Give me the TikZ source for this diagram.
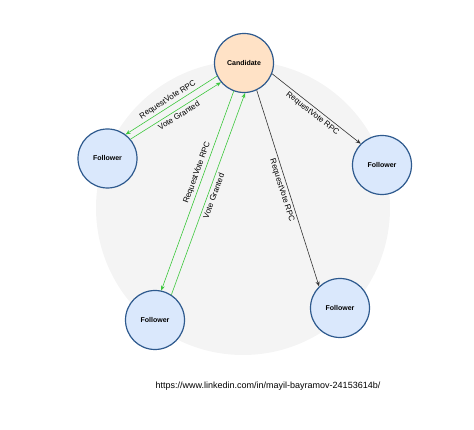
\documentclass[tikz,border=0pt]{standalone}
\usepackage{fontspec}
\setmainfont{Liberation Sans}
\usepackage{xcolor}
\usepackage{tikz}
\usetikzlibrary{positioning,arrows.meta}

\definecolor{nodeedge}{HTML}{2E5A8E}
\definecolor{candfill}{HTML}{FFE2C6}
\definecolor{follfill}{HTML}{DAE8FC}
\definecolor{votegreen}{HTML}{3DC83D}
\definecolor{ringgray}{HTML}{F4F4F4}

\begin{document}
\begin{tikzpicture}[x=1pt, y=1pt, align=center,
    server/.style={circle, draw=nodeedge, line width=1.2pt, minimum size=59pt, inner sep=0pt, font=\bfseries\fontsize{7}{8}\selectfont},
    rpc/.style={-{Stealth[length=5pt, width=4pt]}, line width=0.6pt, draw=black!80},
    vote/.style={rpc, draw=votegreen},
    msg/.style={font=\fontsize{8}{9}\selectfont, sloped, inner sep=2.5pt}]
    \useasboundingbox (0,0) rectangle (474,430);
    \node [circle, fill=ringgray, minimum size=294pt] (ring) at (243,222) {};

    \node [server, fill=candfill] (candidate) at (244,367) {Candidate};
    \node [server, fill=follfill, on grid, below left=95.5pt and 136.5pt of candidate] (follower1) {Follower};
    \node [server, fill=follfill, on grid, below right=102pt and 138pt of candidate] (follower2) {Follower};
    \node [server, fill=follfill, on grid, below left=257pt and 89pt of candidate] (follower3) {Follower};
    \node [server, fill=follfill, on grid, below right=245pt and 96pt of candidate] (follower4) {Follower};

    % green: request and reply pairs
    \draw[vote] (candidate.206) -- node[msg, above] {RequestVote RPC} (follower1.53);
    \draw[vote] (follower1.40) -- node[msg, below] {Vote Granted} (candidate.220);
    \draw[vote] (candidate.250) -- node[msg, above, pos=0.42] {RequestVote RPC} (follower3.78);
    \draw[vote] (follower3.57) -- node[msg, below] {Vote Granted} (candidate.272);
    % black: requests with no reply
    \draw[rpc] (candidate.-21) -- node[msg, below] {RequestVote RPC} (follower2.135);
    \draw[rpc] (candidate.-65) -- node[msg, below] {RequestVote RPC} (follower4.134);

    \node [font=\fontsize{9}{11}\selectfont] (link) at (268,44) {https://www.linkedin.com/in/mayil-bayramov-24153614b/};
\end{tikzpicture}
\end{document}
